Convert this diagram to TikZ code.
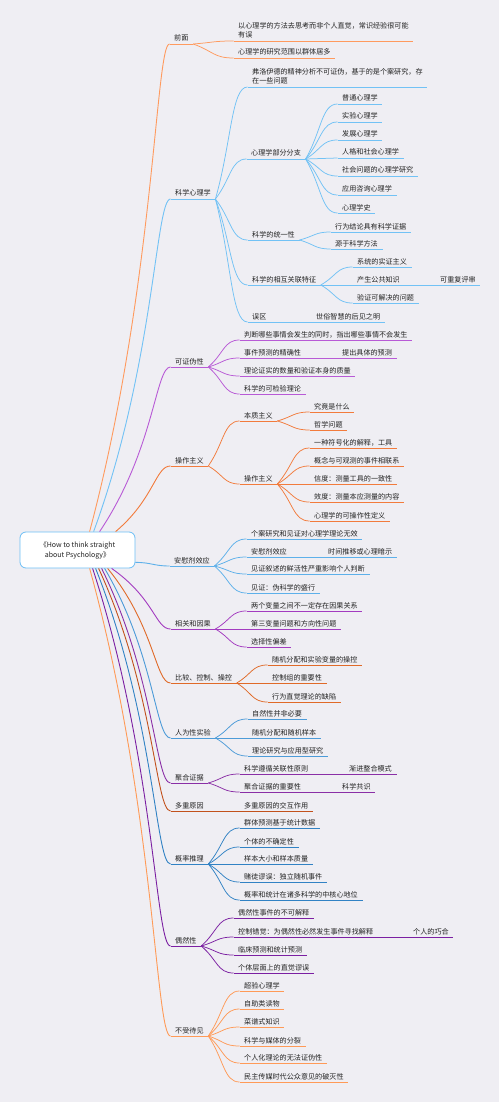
\documentclass[tikz,border=0pt]{standalone}
\usepackage{fontspec}
\setmainfont{Noto Sans CJK SC}
\usetikzlibrary{calc}
\definecolor{bg}{HTML}{EFEEF3}
\definecolor{txt}{HTML}{222222}
\definecolor{rootc}{HTML}{6DBEF5}
\definecolor{c1}{HTML}{FF9A5E}
\definecolor{c2}{HTML}{72C2F5}
\definecolor{c3}{HTML}{B85AD6}
\definecolor{c4}{HTML}{F27B3C}
\definecolor{c5}{HTML}{5DB0EA}
\definecolor{c6}{HTML}{A33BC0}
\definecolor{c7}{HTML}{E06A28}
\definecolor{c8}{HTML}{4C9BD8}
\definecolor{c9}{HTML}{8A2FA6}
\definecolor{c10}{HTML}{C2511C}
\definecolor{c11}{HTML}{3182C4}
\definecolor{c12}{HTML}{7B1FA2}
\definecolor{c13}{HTML}{FF9A57}
\tikzset{
 tp/.style={anchor=south west, xshift=-4.5pt, inner xsep=4.5pt, inner ysep=1.8pt,
   text height=5.6pt, text depth=1pt, font=\fontsize{7.1}{9.4}\selectfont, text=txt, align=left,
   append after command={(\tikzlastnode.south west) edge[draw=#1, line width=0.75pt] (\tikzlastnode.south east)}},
 kid/.style={to path={.. controls ($(\tikztostart)!0.5!(\tikztotarget)$) and ($(\tikztotarget)!0.5!(\tikztostart |- \tikztotarget)$) .. (\tikztotarget)}},
 mainline/.style={line width=0.9pt},
 rootbox/.style={draw=rootc, line width=0.8pt, fill=white, rounded corners=6pt, minimum width=115pt,
   minimum height=36pt, align=center, font=\fontsize{7}{10}\selectfont, text=txt, inner sep=0pt}
}
\newcommand\kidline[3]{\draw[#1, line width=0.75pt] (#2.south east) to[kid] (#3.south west);}
\begin{document}
\begin{tikzpicture}[x=1pt,y=-1pt]
\fill[bg] (0,0) rectangle (499,1102);
\useasboundingbox (0,0) rectangle (499,1102);

\node[rootbox] (root) at (77.5,550) {《How to think straight\\about Psychology》};
\coordinate (s1) at ($(root.north west)+(70,0)$);
\coordinate (s2) at ($(root.north west)+(74,0)$);
\coordinate (s3) at ($(root.north west)+(80,0)$);
\coordinate (s4) at ($(root.north west)+(96,0)$);
\coordinate (s5) at ($(root.south east)+(0,-6)$);
\coordinate (s6) at ($(root.south west)+(92,0)$);
\coordinate (s7) at ($(root.south west)+(88,0)$);
\coordinate (s8) at ($(root.south west)+(85,0)$);
\coordinate (s9) at ($(root.south west)+(82,0)$);
\coordinate (s10) at ($(root.south west)+(79,0)$);
\coordinate (s11) at ($(root.south west)+(76,0)$);
\coordinate (s12) at ($(root.south west)+(73,0)$);
\coordinate (s13) at ($(root.south west)+(70,0)$);

% ---------- branch 1
\node[tp=c1] (m1) at (174,44) {前面};
\node[tp=c1] (n1a) at (238,41) {以心理学的方法去思考而非个人直觉，常识经验很可能\\有误};
\node[tp=c1] (n1b) at (238,58) {心理学的研究范围以群体居多};
\draw[c1,mainline] (s1) .. controls +(65,-244) and +(-14,0) .. (m1.south west);
\kidline{c1}{m1}{n1a}
\kidline{c1}{m1}{n1b}

% ---------- branch 2
\node[tp=c2] (m2) at (175,199) {科学心理学};
\node[tp=c2] (n2a) at (252,87) {弗洛伊德的精神分析不可证伪，基于的是个案研究，存\\在一些问题};
\node[tp=c2] (n2b) at (251,159) {心理学部分分支};
\node[tp=c2] (n2b1) at (342,104) {普通心理学};
\node[tp=c2] (n2b2) at (342,122) {实验心理学};
\node[tp=c2] (n2b3) at (342,140) {发展心理学};
\node[tp=c2] (n2b4) at (342,158) {人格和社会心理学};
\node[tp=c2] (n2b5) at (342,176) {社会问题的心理学研究};
\node[tp=c2] (n2b6) at (342,195) {应用咨询心理学};
\node[tp=c2] (n2b7) at (342,213) {心理学史};
\node[tp=c2] (n2c) at (252,240) {科学的统一性};
\node[tp=c2] (n2c1) at (335,232) {行为结论具有科学证据};
\node[tp=c2] (n2c2) at (335,249) {源于科学方法};
\node[tp=c2] (n2d) at (252,285) {科学的相互关联特征};
\node[tp=c2] (n2d1) at (357,267) {系统的实证主义};
\node[tp=c2] (n2d2) at (357,285) {产生公共知识};
\node[tp=c2] (n2d2a) at (440,285) {可重复评审};
\node[tp=c2] (n2d3) at (357,303) {验证可解决的问题};
\node[tp=c2] (n2e) at (252,322) {误区};
\node[tp=c2] (n2e1) at (316,322) {世俗智慧的后见之明};
\draw[c2,mainline] (s2) .. controls +(61,-166) and +(-15,0) .. (m2.south west);
\foreach \k in {n2a,n2b,n2c,n2d,n2e} {\kidline{c2}{m2}{\k}}
\foreach \k in {n2b1,n2b2,n2b3,n2b4,n2b5,n2b6,n2b7} {\kidline{c2}{n2b}{\k}}
\foreach \k in {n2c1,n2c2} {\kidline{c2}{n2c}{\k}}
\foreach \k in {n2d1,n2d2,n2d3} {\kidline{c2}{n2d}{\k}}
\kidline{c2}{n2d2}{n2d2a}
\kidline{c2}{n2e}{n2e1}

% ---------- branch 3
\node[tp=c3] (m3) at (175,367) {可证伪性};
\node[tp=c3] (n3a) at (244,340) {判断哪些事情会发生的同时，指出哪些事情不会发生};
\node[tp=c3] (n3b) at (244,358) {事件预测的精确性};
\node[tp=c3] (n3b1) at (342,358) {提出具体的预测};
\node[tp=c3] (n3c) at (244,376) {理论证实的数量和验证本身的质量};
\node[tp=c3] (n3d) at (244,394) {科学的可检验理论};
\draw[c3,mainline] (s3) .. controls +(55,-82) and +(-15,0) .. (m3.south west);
\foreach \k in {n3a,n3b,n3c,n3d} {\kidline{c3}{m3}{\k}}
\kidline{c3}{n3b}{n3b1}

% ---------- branch 4
\node[tp=c4] (m4) at (175,466) {操作主义};
\node[tp=c4] (n4a) at (244,421) {本质主义};
\node[tp=c4] (n4a1) at (314,412) {究竟是什么};
\node[tp=c4] (n4a2) at (314,430) {哲学问题};
\node[tp=c4] (n4b) at (244,484) {操作主义};
\node[tp=c4] (n4b1) at (314,448) {一种符号化的解释，工具};
\node[tp=c4] (n4b2) at (314,466) {概念与可观测的事件相联系};
\node[tp=c4] (n4b3) at (314,484) {信度：测量工具的一致性};
\node[tp=c4] (n4b4) at (314,502) {效度：测量本应测量的内容};
\node[tp=c4] (n4b5) at (314,521) {心理学的可操作性定义};
\draw[c4,mainline] (s4) .. controls +(39,-33) and +(-15,0) .. (m4.south west);
\foreach \k in {n4a,n4b} {\kidline{c4}{m4}{\k}}
\foreach \k in {n4a1,n4a2} {\kidline{c4}{n4a}{\k}}
\foreach \k in {n4b1,n4b2,n4b3,n4b4,n4b5} {\kidline{c4}{n4b}{\k}}

% ---------- branch 5
\node[tp=c5] (m5) at (174,566) {安慰剂效应};
\node[tp=c5] (n5a) at (251,539) {个案研究和见证对心理学理论无效};
\node[tp=c5] (n5b) at (251,557) {安慰剂效应};
\node[tp=c5] (n5b1) at (328,557) {时间推移或心理暗示};
\node[tp=c5] (n5c) at (251,574) {见证叙述的鲜活性严重影响个人判断};
\node[tp=c5] (n5d) at (251,593) {见证：伪科学的盛行};
\draw[c5,mainline] (s5) .. controls +(16,0) and +(-16,0) .. (m5.south west);
\foreach \k in {n5a,n5b,n5c,n5d} {\kidline{c5}{m5}{\k}}
\kidline{c5}{n5b}{n5b1}

% ---------- branch 6
\node[tp=c6] (m6) at (175,629) {相关和因果};
\node[tp=c6] (n6a) at (251,611) {两个变量之间不一定存在因果关系};
\node[tp=c6] (n6b) at (251,629) {第三变量问题和方向性问题};
\node[tp=c6] (n6c) at (251,647) {选择性偏差};
\draw[c6,mainline] (s6) .. controls +(43,30) and +(-15,0) .. (m6.south west);
\foreach \k in {n6a,n6b,n6c} {\kidline{c6}{m6}{\k}}

% ---------- branch 7
\node[tp=c7] (m7) at (175,683) {比较、控制、操控};
\node[tp=c7] (n7a) at (272,665) {随机分配和实验变量的操控};
\node[tp=c7] (n7b) at (272,683) {控制组的重要性};
\node[tp=c7] (n7c) at (272,702) {行为直觉理论的缺陷};
\draw[c7,mainline] (s7) .. controls +(47,57) and +(-15,0) .. (m7.south west);
\foreach \k in {n7a,n7b,n7c} {\kidline{c7}{m7}{\k}}

% ---------- branch 8
\node[tp=c8] (m8) at (175,738) {人为性实验};
\node[tp=c8] (n8a) at (252,719) {自然性并非必要};
\node[tp=c8] (n8b) at (252,738) {随机分配和随机样本};
\node[tp=c8] (n8c) at (252,756) {理论研究与应用型研究};
\draw[c8,mainline] (s8) .. controls +(50,85) and +(-15,0) .. (m8.south west);
\foreach \k in {n8a,n8b,n8c} {\kidline{c8}{m8}{\k}}

% ---------- branch 9
\node[tp=c9] (m9) at (175,783) {聚合证据};
\node[tp=c9] (n9a) at (244,774) {科学遵循关联性原则};
\node[tp=c9] (n9a1) at (349,774) {渐进整合模式};
\node[tp=c9] (n9b) at (244,792) {聚合证据的重要性};
\node[tp=c9] (n9b1) at (342,792) {科学共识};
\draw[c9,mainline] (s9) .. controls +(53,107) and +(-15,0) .. (m9.south west);
\foreach \k in {n9a,n9b} {\kidline{c9}{m9}{\k}}
\kidline{c9}{n9a}{n9a1}
\kidline{c9}{n9b}{n9b1}

% ---------- branch 10
\node[tp=c10] (m10) at (175,811) {多重原因};
\node[tp=c10] (n10a) at (244,811) {多重原因的交互作用};
\draw[c10,mainline] (s10) .. controls +(56,121) and +(-15,0) .. (m10.south west);
\kidline{c10}{m10}{n10a}

% ---------- branch 11
\node[tp=c11] (m11) at (175,864) {概率推理};
\node[tp=c11] (n11a) at (244,828) {群体预测基于统计数据};
\node[tp=c11] (n11b) at (244,847) {个体的不确定性};
\node[tp=c11] (n11c) at (244,864) {样本大小和样本质量};
\node[tp=c11] (n11d) at (244,882) {赌徒谬误：独立随机事件};
\node[tp=c11] (n11e) at (244,900) {概率和统计在诸多科学的中核心地位};
\draw[c11,mainline] (s11) .. controls +(59,148) and +(-15,0) .. (m11.south west);
\foreach \k in {n11a,n11b,n11c,n11d,n11e} {\kidline{c11}{m11}{\k}}

% ---------- branch 12
\node[tp=c12] (m12) at (175,946) {偶然性};
\node[tp=c12] (n12a) at (238,918) {偶然性事件的不可解释};
\node[tp=c12] (n12b) at (238,937) {控制错觉：为偶然性必然发生事件寻找解释};
\node[tp=c12] (n12b1) at (413,937) {个人的巧合};
\node[tp=c12] (n12c) at (238,955) {临床预测和统计预测};
\node[tp=c12] (n12d) at (238,973) {个体层面上的直觉谬误};
\draw[c12,mainline] (s12) .. controls +(62,189) and +(-15,0) .. (m12.south west);
\foreach \k in {n12a,n12b,n12c,n12d} {\kidline{c12}{m12}{\k}}
\kidline{c12}{n12b}{n12b1}

% ---------- branch 13
\node[tp=c13] (m13) at (175,1036) {不受待见};
\node[tp=c13] (n13a) at (244,991) {超验心理学};
\node[tp=c13] (n13b) at (244,1009) {自助类读物};
\node[tp=c13] (n13c) at (244,1027) {菜谱式知识};
\node[tp=c13] (n13d) at (244,1046) {科学与媒体的分裂};
\node[tp=c13] (n13e) at (244,1063) {个人化理论的无法证伪性};
\node[tp=c13] (n13f) at (244,1082) {民主传媒时代公众意见的破灭性};
\draw[c13,mainline] (s13) .. controls +(65,234) and +(-15,0) .. (m13.south west);
\foreach \k in {n13a,n13b,n13c,n13d,n13e,n13f} {\kidline{c13}{m13}{\k}}
\end{tikzpicture}
\end{document}
